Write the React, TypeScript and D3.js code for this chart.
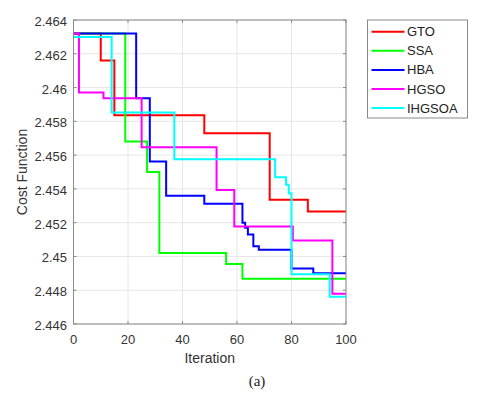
import React from 'react';
import * as d3 from 'd3';

// change points: [iteration, cost] — value holds until next point
const gto = [[0, 2.4632], [10, 2.4616], [15, 2.45836], [48, 2.4573], [72, 2.45335], [86, 2.45266], [100, 2.45266]];
const ssa = [[0, 2.4632], [19, 2.4568], [27, 2.4550], [31.5, 2.4502], [56, 2.44956], [62, 2.44868], [100, 2.44868]];
const hba = [[0, 2.4632], [23, 2.45937], [28, 2.45562], [34, 2.45359], [48, 2.45312], [62, 2.4520], [63, 2.4517], [64, 2.4513], [66, 2.4506], [68, 2.4504], [80, 2.44929], [88, 2.4490], [100, 2.4490]];
const hgso = [[0, 2.4632], [2, 2.4597], [11, 2.45937], [25, 2.45647], [52.5, 2.45394], [59, 2.45178], [80.5, 2.45094], [95, 2.44779], [100, 2.44779]];
const ihgsoa = [[0, 2.4630], [14, 2.45852], [37, 2.45576], [74, 2.45469], [78, 2.45424], [79, 2.45374], [80, 2.44895], [94, 2.44762], [100, 2.44762]];

const seriesNames = ['GTO', 'SSA', 'HBA', 'HGSO', 'IHGSOA'];
const seriesColors = ['#ff0000', '#00ff00', '#0000ff', '#ff00ff', '#00ffff'];
const seriesData = [gto, ssa, hba, hgso, ihgsoa];

const xTicks = [0, 20, 40, 60, 80, 100];
const yTicks = [2.446, 2.448, 2.45, 2.452, 2.454, 2.456, 2.458, 2.46, 2.462, 2.464];

const W = 480, H = 399;
const left = 73.5, right = 346, top = 20, bottom = 324;
const font = 'Liberation Sans, Arial, sans-serif';

export default function App() {
  const x = d3.scaleLinear().domain([0, 100]).range([left, right]);
  const y = d3.scaleLinear().domain([2.446, 2.464]).range([bottom, top]);
  const line = d3.line<number[]>()
    .x(d => x(d[0]))
    .y(d => y(d[1]))
    .curve(d3.curveStepAfter);

  return (
    <svg width={W} height={H} style={{ position: 'absolute', left: 0, top: 0, background: '#fff' }}>
      {/* grid */}
      {xTicks.map(t => (
        <line key={'gx' + t} x1={x(t)} x2={x(t)} y1={top} y2={bottom} stroke="#e6e6e6" strokeWidth={1} />
      ))}
      {yTicks.map(t => (
        <line key={'gy' + t} x1={left} x2={right} y1={y(t)} y2={y(t)} stroke="#e6e6e6" strokeWidth={1} />
      ))}
      {/* series */}
      {seriesData.map((s, i) => (
        <path key={seriesNames[i]} d={line(s) || ''} fill="none" stroke={seriesColors[i]} strokeWidth={2} />
      ))}
      {/* axes box */}
      <rect x={left} y={top} width={right - left} height={bottom - top} fill="none" stroke="#8a8a8a" strokeWidth={1} />
      {xTicks.map(t => (
        <g key={'tx' + t}>
          <line x1={x(t)} x2={x(t)} y1={bottom} y2={bottom - 3} stroke="#8a8a8a" />
          <line x1={x(t)} x2={x(t)} y1={top} y2={top + 3} stroke="#8a8a8a" />
          <text x={x(t)} y={bottom + 19.5} textAnchor="middle" fontFamily={font} fontSize={13} fill="#333">{t}</text>
        </g>
      ))}
      {yTicks.map(t => (
        <g key={'ty' + t}>
          <line x1={left} x2={left + 3} y1={y(t)} y2={y(t)} stroke="#8a8a8a" />
          <line x1={right} x2={right - 3} y1={y(t)} y2={y(t)} stroke="#8a8a8a" />
          <text x={left - 6.5} y={y(t) + 6} textAnchor="end" fontFamily={font} fontSize={13} fill="#333">{String(+t.toFixed(3))}</text>
        </g>
      ))}
      <text x={(left + right) / 2} y={363} textAnchor="middle" fontFamily={font} fontSize={14} fill="#333">Iteration</text>
      <text transform={`translate(26.5,${(top + bottom) / 2}) rotate(-90)`} textAnchor="middle" fontFamily={font} fontSize={14} fill="#333">Cost Function</text>
      <text x={257} y={386} textAnchor="middle" fontFamily="Liberation Serif, Times New Roman, serif" fontSize={15} fill="#222">(a)</text>
      {/* legend */}
      <rect x={367.5} y={20} width={100} height={98} fill="#fff" stroke="#8a8a8a" strokeWidth={1} />
      {seriesNames.map((n, i) => {
        const ly = 31.7 + i * 19.1;
        return (
          <g key={'lg' + n}>
            <line x1={371.5} x2={404.5} y1={ly} y2={ly} stroke={seriesColors[i]} strokeWidth={2} />
            <text x={407} y={ly + 4.5} fontFamily={font} fontSize={13} fill="#222">{n}</text>
          </g>
        );
      })}
    </svg>
  );
}
